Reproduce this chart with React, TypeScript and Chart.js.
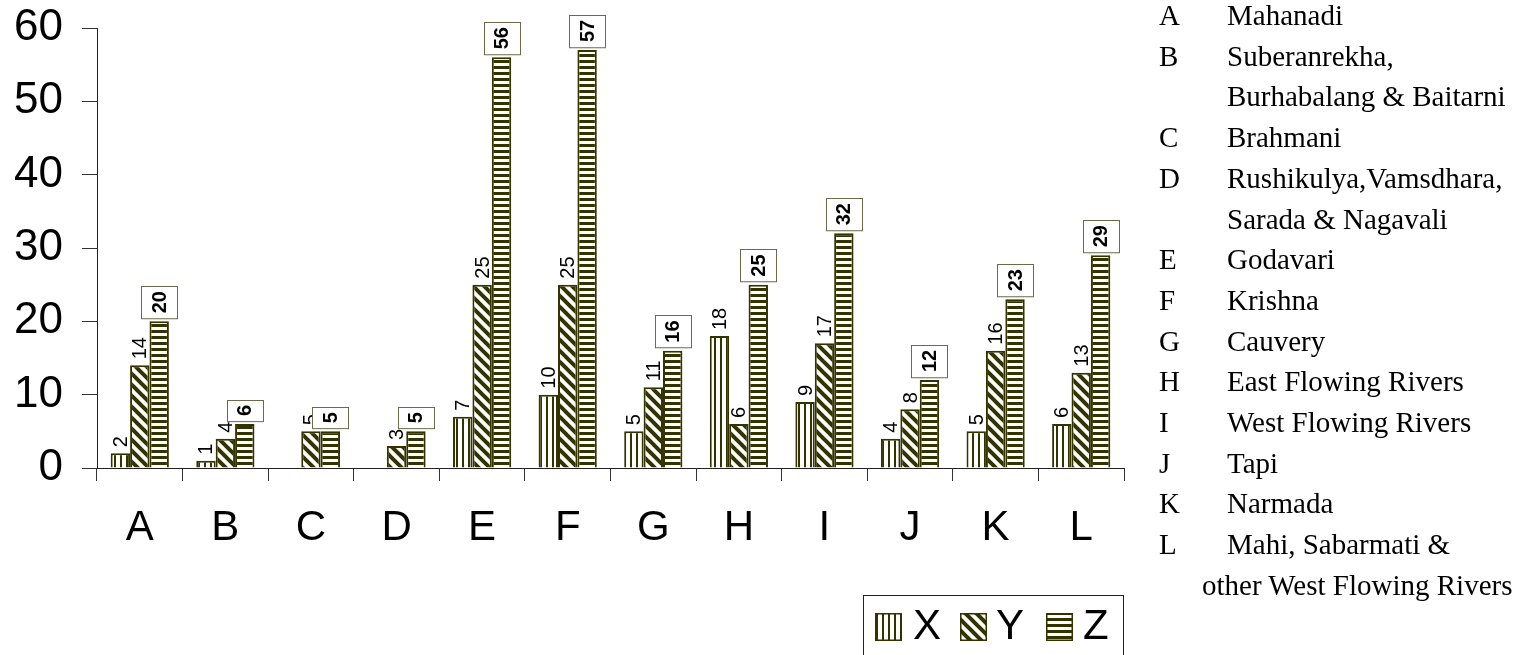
import React, { useEffect, useRef } from "react";
import { Chart, registerables } from "chart.js";

Chart.register(...registerables);

// ---------- data ----------
const categories = ["A", "B", "C", "D", "E", "F", "G", "H", "I", "J", "K", "L"];
const seriesNames = ["X", "Y", "Z"];
const valuesX: (number | null)[] = [2, 1, null, null, 7, 10, 5, 18, 9, 4, 5, 6];
const valuesY: (number | null)[] = [14, 4, 5, 3, 25, 25, 11, 6, 17, 8, 16, 13];
const valuesZ: (number | null)[] = [20, 6, 5, 5, 56, 57, 16, 25, 32, 12, 23, 29];
const yMin = 0;
const yMax = 60;
const yStep = 10;

const keyCodes = ["A", "B", "", "C", "D", "", "E", "F", "G", "H", "I", "J", "K", "L", ""];
const keyNames = [
  "Mahanadi",
  "Suberanrekha,",
  "Burhabalang & Baitarni",
  "Brahmani",
  "Rushikulya,Vamsdhara,",
  "Sarada & Nagavali",
  "Godavari",
  "Krishna",
  "Cauvery",
  "East Flowing Rivers",
  "West Flowing Rivers",
  "Tapi",
  "Narmada",
  "Mahi, Sabarmati &",
  "other West Flowing Rivers",
];

// ---------- styles ----------
const OLIVE = "#333300";
const SANS = '"Liberation Sans", Arial, sans-serif';
const SERIF = '"Liberation Serif", "Times New Roman", serif';

function makePattern(kind: string): CanvasPattern | string {
  const c = document.createElement("canvas");
  const g = c.getContext("2d");
  if (!g) return OLIVE;
  if (kind === "v") {
    c.width = 6;
    c.height = 6;
    g.fillStyle = "#fff";
    g.fillRect(0, 0, 6, 6);
    g.fillStyle = OLIVE;
    g.fillRect(0, 0, 2, 6);
  } else if (kind === "h") {
    c.width = 6;
    c.height = 6;
    g.fillStyle = "#fff";
    g.fillRect(0, 0, 6, 6);
    g.fillStyle = OLIVE;
    g.fillRect(0, 0, 6, 3);
  } else {
    const s = 11;
    c.width = s;
    c.height = s;
    g.fillStyle = "#fff";
    g.fillRect(0, 0, s, s);
    g.strokeStyle = OLIVE;
    g.lineWidth = 4;
    g.lineCap = "square";
    for (let k = -1; k <= 1; k++) {
      g.beginPath();
      g.moveTo(k * s, 0);
      g.lineTo(k * s + s, s);
      g.stroke();
    }
  }
  const p = g.createPattern(c, "repeat");
  return p || OLIVE;
}

const labelPlugin = {
  id: "barLabels",
  afterDatasetsDraw(chart: any) {
    const ctx = chart.ctx as CanvasRenderingContext2D;
    chart.data.datasets.forEach((ds: any, di: number) => {
      const meta = chart.getDatasetMeta(di);
      meta.data.forEach((bar: any, i: number) => {
        const v = ds.data[i];
        if (v === null || v === undefined || v === 0) return;
        const txt = String(v);
        const x = bar.x;
        const y = bar.y;
        ctx.save();
        if (di === 2) {
          ctx.font = `bold 20px ${SANS}`;
          const w = ctx.measureText(txt).width;
          const boxH = w + 10;
          const boxW = 36;
          const bottom = y - 3;
          const top = bottom - boxH;
          ctx.fillStyle = "#fff";
          ctx.fillRect(x - boxW / 2, top, boxW, boxH);
          ctx.strokeStyle = "#6b6b4a";
          ctx.lineWidth = 1;
          ctx.strokeRect(Math.round(x - boxW / 2) + 0.5, Math.round(top) + 0.5, boxW, boxH);
          ctx.translate(x, top + boxH / 2);
          ctx.rotate(-Math.PI / 2);
          ctx.fillStyle = "#000";
          ctx.textAlign = "center";
          ctx.textBaseline = "middle";
          ctx.fillText(txt, 0, 1);
        } else {
          ctx.font = `20px ${SANS}`;
          ctx.translate(x, y - 6);
          ctx.rotate(-Math.PI / 2);
          ctx.fillStyle = "#000";
          ctx.textAlign = "left";
          ctx.textBaseline = "middle";
          ctx.fillText(txt, 0, 1);
        }
        ctx.restore();
      });
    });
  },
};

const legendPlugin = {
  id: "boxLegend",
  afterDraw(chart: any) {
    const ctx = chart.ctx as CanvasRenderingContext2D;
    ctx.save();
    ctx.strokeStyle = "#222";
    ctx.lineWidth = 1;
    ctx.strokeRect(863.5, 595.5, 260, 120);
    const swatchX = [875, 960, 1046];
    const textX = [913, 996, 1083];
    chart.data.datasets.forEach((ds: any, di: number) => {
      ctx.fillStyle = ds.backgroundColor;
      ctx.fillRect(swatchX[di], 613, 27, 28);
      ctx.strokeStyle = OLIVE;
      ctx.lineWidth = 1.5;
      ctx.strokeRect(swatchX[di] + 0.75, 613.75, 25.5, 26.5);
      ctx.fillStyle = "#000";
      ctx.font = `42px ${SANS}`;
      ctx.textAlign = "left";
      ctx.textBaseline = "middle";
      ctx.fillText(seriesNames[di], textX[di], 627);
    });
    ctx.restore();
  },
};

export default function App() {
  const canvasRef = useRef<HTMLCanvasElement | null>(null);

  useEffect(() => {
    if (!canvasRef.current) return;
    const patterns = [makePattern("v"), makePattern("d"), makePattern("h")];
    const seriesValues = [valuesX, valuesY, valuesZ];
    const chart = new Chart(canvasRef.current, {
      type: "bar",
      data: {
        labels: categories,
        datasets: seriesNames.map((name, i) => ({
          label: name,
          data: seriesValues[i],
          backgroundColor: patterns[i] as any,
          borderColor: OLIVE,
          borderWidth: 2,
          categoryPercentage: 0.68,
          barPercentage: 1.0,
        })),
      },
      options: {
        responsive: false,
        animation: false,
        events: [],
        layout: { padding: { left: 0, right: 408, top: 28, bottom: 0 } },
        plugins: {
          legend: { display: false },
          tooltip: { enabled: false },
        },
        scales: {
          x: {
            grid: {
              drawOnChartArea: false,
              drawTicks: true,
              tickLength: 13,
              offset: true,
              color: "#333",
            },
            border: { color: "#222", width: 1 },
            ticks: {
              font: { family: SANS, size: 42 },
              color: "#000",
              padding: 22,
              maxRotation: 0,
            },
            afterFit(scale: any) {
              scale.height = 187;
              scale.paddingLeft = 0;
              scale.paddingRight = 0;
            },
          },
          y: {
            min: yMin,
            max: yMax,
            grid: {
              drawOnChartArea: false,
              drawTicks: true,
              tickLength: 15,
              color: "#333",
            },
            border: { color: "#222", width: 1 },
            ticks: {
              stepSize: yStep,
              font: { family: SANS, size: 44 },
              color: "#000",
              padding: 19,
            },
            afterFit(scale: any) {
              scale.width = 97;
              scale.paddingTop = 0;
              scale.paddingBottom = 0;
            },
          },
        },
      },
      plugins: [labelPlugin, legendPlugin],
    });
    return () => chart.destroy();
  }, []);

  const lineH = 40.7;
  return (
    <div
      style={{
        position: "fixed",
        left: 0,
        top: 0,
        width: 1532,
        height: 655,
        background: "#fff",
        overflow: "hidden",
      }}
    >
      <canvas ref={canvasRef} width={1532} height={655} style={{ position: "absolute", left: 0, top: 0 }} />
      {keyNames.map((name, i) => {
        const center = 15 + lineH * i;
        const isLast = i === keyNames.length - 1;
        return (
          <div
            key={i}
            style={{
              position: "absolute",
              top: center - 20,
              left: 0,
              height: 40,
              lineHeight: "40px",
              fontFamily: SERIF,
              fontSize: 29,
              color: "#000",
              whiteSpace: "nowrap",
            }}
          >
            {keyCodes[i] && (
              <span style={{ position: "absolute", left: 1159 }}>{keyCodes[i]}</span>
            )}
            <span style={{ position: "absolute", left: isLast ? 1202 : 1227 }}>{name}</span>
          </div>
        );
      })}
    </div>
  );
}
